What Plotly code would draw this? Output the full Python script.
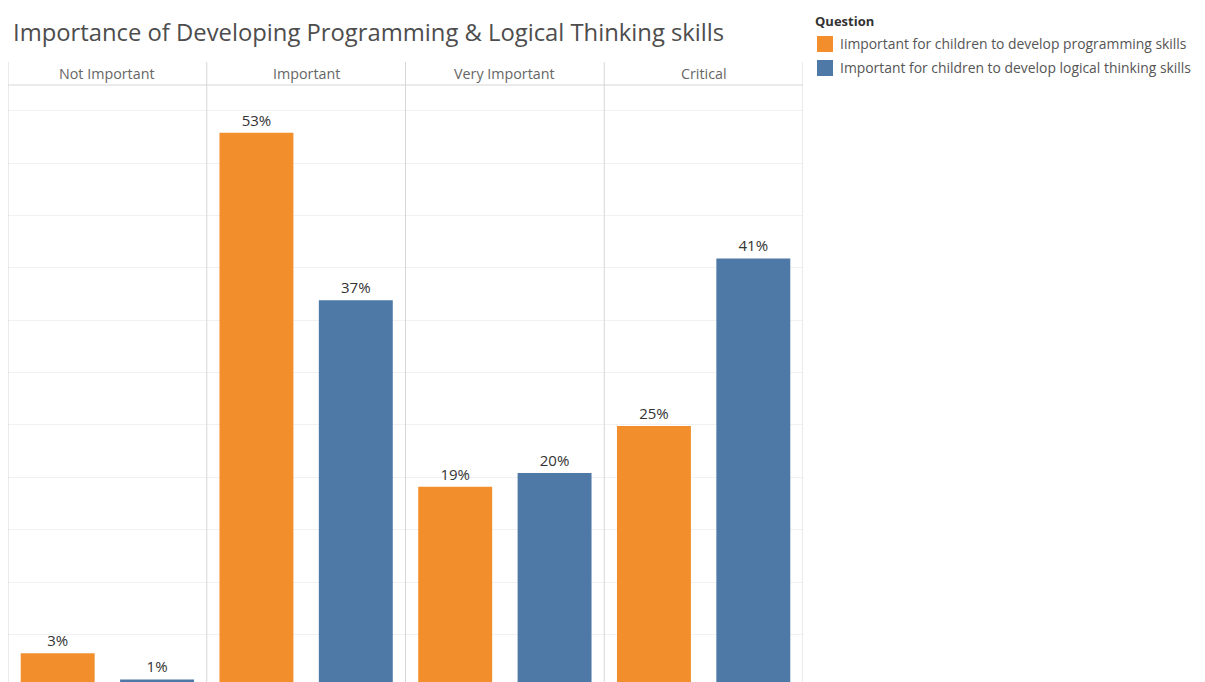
import plotly.graph_objects as go

categories = ["Not Important", "Important", "Very Important", "Critical"]
series_names = [
    "Iimportant for children to develop programming skills",
    "Important for children to develop logical thinking skills",
]
programming = [3.2, 52.9, 19.1, 24.9]
logical = [0.7, 36.9, 20.4, 40.9]
labels_programming = ["3%", "53%", "19%", "25%"]
labels_logical = ["1%", "37%", "20%", "41%"]
title_text = "Importance of Developing Programming & Logical Thinking skills"
legend_title = "Question"

colors = ["#F28E2B", "#4E79A7"]

OFF = 8  # browser body margin
W, H = 1205 - OFF, 682 - OFF
ml, mr, mt, mb = 8 - OFF, 1205 - 803, 85 - OFF, 0
plot_h = H - mt - mb
plot_w = W - ml - mr
header_h = 23
y_top = 57.47
y_bot = 0.45

n = len(categories)
x_prog = [i + 0.25 for i in range(n)]
x_log = [i + 0.75 for i in range(n)]
bw = 0.372

fig = go.Figure()
for xs, vals, labs, col, name in [
    (x_prog, programming, labels_programming, colors[0], series_names[0]),
    (x_log, logical, labels_logical, colors[1], series_names[1]),
]:
    fig.add_trace(go.Bar(
        x=xs, y=vals, width=bw, marker=dict(color=col, line=dict(width=0)),
        text=labs, textposition="outside", cliponaxis=False,
        textfont=dict(family="Open Sans", size=15, color="#333333"),
        name=name, showlegend=False, hoverinfo="skip",
    ))

shapes = []
hdr_top = 1 + header_h / plot_h
for i in range(n + 1):
    shapes.append(dict(type="line", xref="x", yref="paper", x0=i, x1=i, y0=0, y1=hdr_top,
                       line=dict(color="#d6d6d6", width=1)))
shapes.append(dict(type="line", xref="x", yref="paper", x0=0, x1=n, y0=1, y1=1,
                   line=dict(color="#d6d6d6", width=1)))

annotations = []
for i, c in enumerate(categories):
    annotations.append(dict(x=i + 0.5, y=1 + header_h / 2 / plot_h, xref="x", yref="paper",
                            text=c, showarrow=False, xanchor="center", yanchor="middle",
                            font=dict(family="Open Sans", size=14.3, color="#666666")))

# legend (custom), positions in window pixels
leg = []
leg.append(("ann", dict(x=813, y=21, text="<b>" + legend_title + "</b>",
                        font=dict(family="Open Sans", size=13, color="#333333"))))
for k, (nm, col) in enumerate(zip(series_names, colors)):
    cy = 44 + k * 24
    leg.append(("ann", dict(x=838, y=cy, text=nm,
                            font=dict(family="Open Sans", size=13.9, color="#555555"))))
    leg.append(("rect", dict(x0=817, x1=833, y0=cy - 8, y1=cy + 8, fillcolor=col)))


def px_x(px):
    return (px - OFF - ml) / plot_w


def px_y(py):
    return (H - (py - OFF) - mb) / plot_h


for kind, d in leg:
    if kind == "ann":
        annotations.append(dict(x=px_x(d["x"]), y=px_y(d["y"]), xref="paper", yref="paper",
                                text=d["text"], showarrow=False, xanchor="left",
                                yanchor="middle", font=d["font"]))
    else:
        shapes.append(dict(type="rect", xref="paper", yref="paper",
                           x0=px_x(d["x0"]), x1=px_x(d["x1"]),
                           y0=px_y(d["y1"]), y1=px_y(d["y0"]),
                           fillcolor=d["fillcolor"], line=dict(width=0)))

fig.update_layout(
    width=W, height=H,
    margin=dict(l=ml, r=mr, t=mt, b=mb, pad=0),
    paper_bgcolor="white", plot_bgcolor="white",
    title=dict(text=title_text, x=(13 - OFF) / W, xanchor="left", y=1 - (33 - OFF) / H,
               yanchor="middle",
               font=dict(family="Open Sans", size=23.8, color="#4d4d4d")),
    xaxis=dict(range=[0, n], showgrid=False, zeroline=False, showticklabels=False,
               showline=False, fixedrange=True),
    yaxis=dict(range=[y_bot, y_top], dtick=5, tick0=0, showgrid=True, gridcolor="#f1f1f1",
               gridwidth=1, zeroline=False, showticklabels=False, showline=False,
               fixedrange=True),
    shapes=shapes, annotations=annotations,
    barmode="overlay",
)

fig.write_html("out.html")
